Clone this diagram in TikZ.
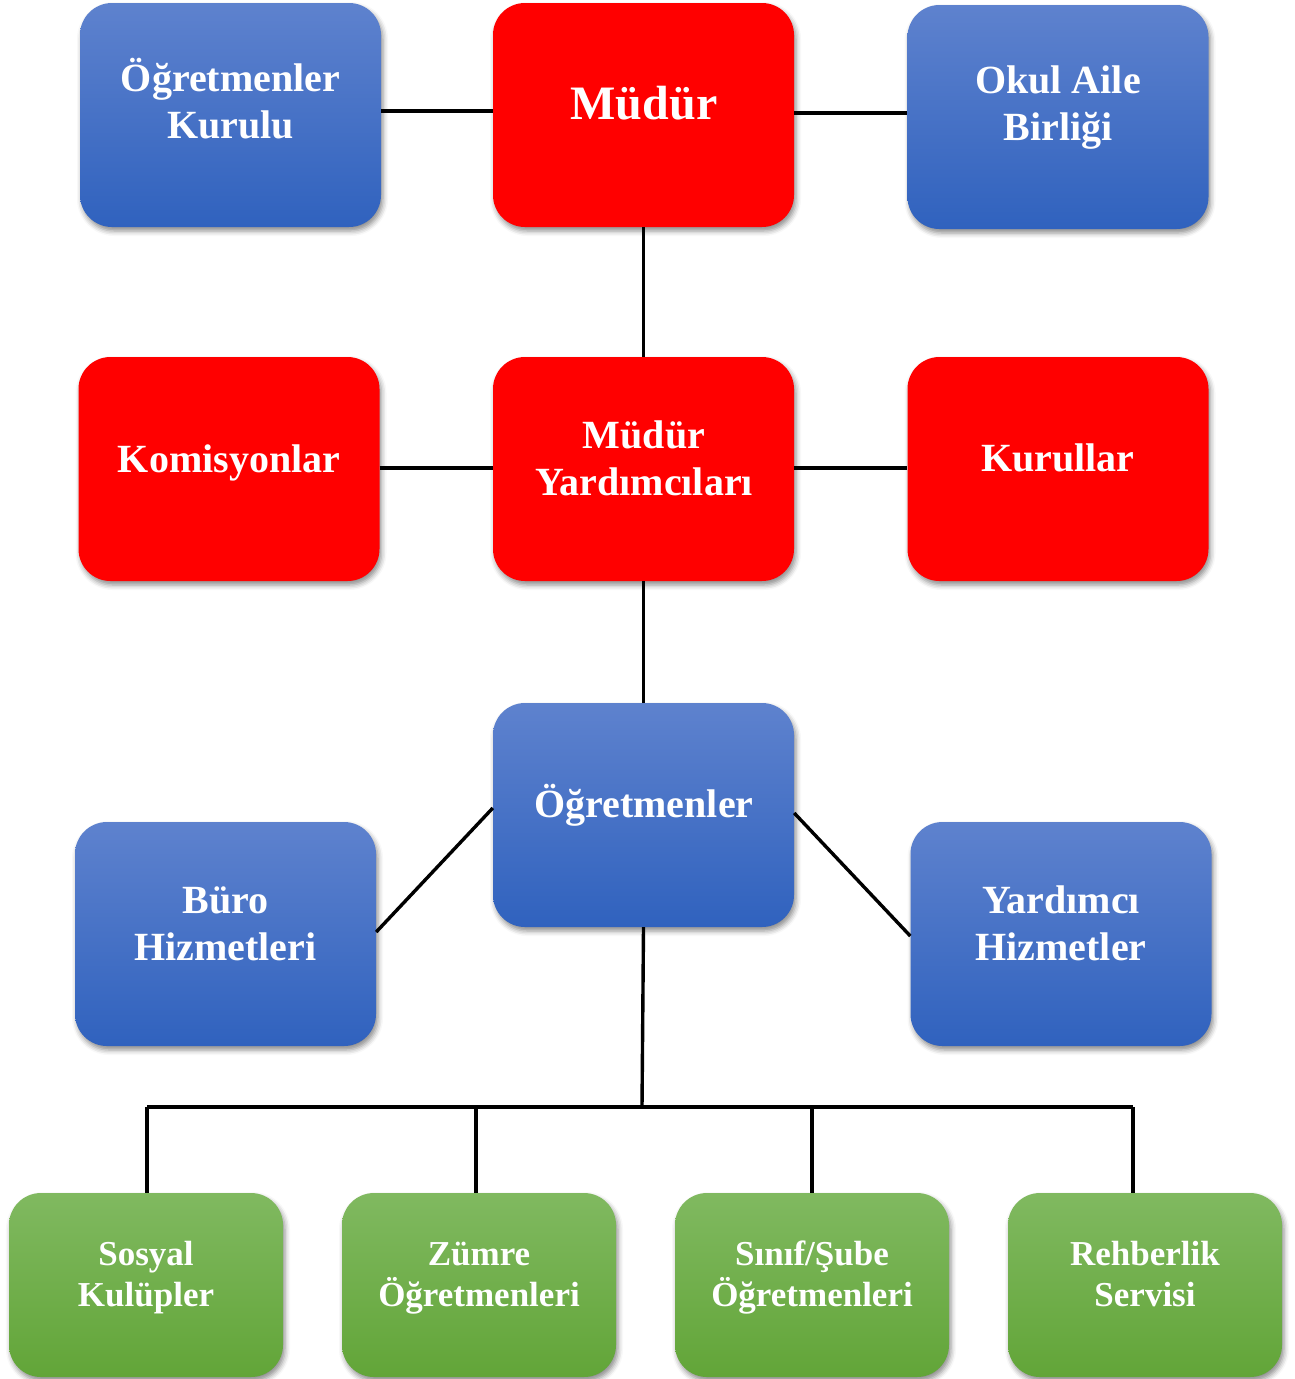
\documentclass[tikz,border=0pt]{standalone}
\usepackage{fontspec}
\setmainfont{Liberation Serif}
\usetikzlibrary{shadows.blur}
\definecolor{bluetop}{RGB}{94,130,206}
\definecolor{bluebot}{RGB}{48,98,190}
\definecolor{greentop}{RGB}{128,185,96}
\definecolor{greenbot}{RGB}{98,165,56}
\definecolor{redbox}{RGB}{255,0,0}
\tikzset{
  box/.style={rounded corners=32pt, minimum width=301pt, minimum height=224pt, inner sep=0pt,
    blur shadow={shadow xshift=2pt, shadow yshift=-4pt, shadow blur radius=5pt, shadow opacity=45}},
  bluebox/.style={box, top color=bluetop, bottom color=bluebot},
  redb/.style={box, fill=redbox},
  greenbox/.style={box, minimum width=274pt, minimum height=184pt, top color=greentop, bottom color=greenbot},
  lbl/.style={text=white, font=\bfseries\fontsize{40}{47}\selectfont, align=center, anchor=base, inner sep=0pt},
  glbl/.style={text=white, font=\bfseries\fontsize{35}{41}\selectfont, align=center, anchor=base, inner sep=0pt},
  conn/.style={line width=3.4pt, black}
}
\begin{document}
\begin{tikzpicture}[x=1pt,y=-1pt]
\useasboundingbox (0,0) rectangle (1295,1379);
% row 1
\node[bluebox] (ok) at (230.5,115) {};
\node[redb] (md) at (643.5,115) {};
\node[bluebox] (oab) at (1058,117) {};
% row 2
\node[redb] (kom) at (229,469) {};
\node[redb] (my) at (643.5,469) {};
\node[redb] (kur) at (1058,469) {};
% row 3
\node[bluebox] (ogr) at (643.5,815) {};
\node[bluebox] (buro) at (225.5,934) {};
\node[bluebox] (yh) at (1061,934) {};
% row 4
\node[greenbox] (sk) at (146,1285) {};
\node[greenbox] (zo) at (479,1285) {};
\node[greenbox] (so) at (812,1285) {};
\node[greenbox] (rs) at (1145,1285) {};
% labels (base = baseline of last line)
\node[lbl] (tok) at (230.5,138) {Öğretmenler\\Kurulu};
\node[lbl, font=\bfseries\fontsize{48}{56}\selectfont] (tmd) at (644,119) {Müdür};
\node[lbl] (toab) at (1058,140) {Okul Aile\\Birliği};
\node[lbl] (tkom) at (229,472) {Komisyonlar};
\node[lbl] (tmy) at (644,495) {Müdür\\Yardımcıları};
\node[lbl] (tkur) at (1058,471) {Kurullar};
\node[lbl] (togr) at (644,817) {Öğretmenler};
\node[lbl] (tburo) at (225.5,960) {Büro\\Hizmetleri};
\node[lbl] (tyh) at (1061,960) {Yardımcı\\Hizmetler};
\node[glbl] (tsk) at (146,1306) {Sosyal\\Kulüpler};
\node[glbl] (tzo) at (479,1306) {Zümre\\Öğretmenleri};
\node[glbl] (tso) at (812,1306) {Sınıf/Şube\\Öğretmenleri};
\node[glbl] (trs) at (1145,1306) {Rehberlik\\Servisi};
% connectors
\coordinate (bl) at (147,1107);
\coordinate (br) at (1133,1107);
\coordinate (bm) at (642,1107);
\draw[conn] (ok.east |- 0,111) -- (md.west |- 0,111);
\draw[conn] (md.east |- 0,113) -- (oab.west |- 0,113);
\draw[conn] (md.south) -- (my.north);
\draw[conn] (kom.east |- 0,468) -- (my.west |- 0,468);
\draw[conn] (my.east |- 0,468) -- (kur.west |- 0,468);
\draw[conn] (my.south) -- (ogr.north);
\draw[conn] (buro.east |- 0,932) -- (ogr.west |- 0,808);
\draw[conn] (ogr.east |- 0,813) -- (yh.west |- 0,936);
\draw[conn] (ogr.south) -- (bm);
\draw[conn] (bl) -- (br);
\draw[conn] (bl) -- (sk.north -| bl);
\draw[conn] (zo.north -| 476,0) -- (476,1107);
\draw[conn] (so.north -| 812,0) -- (812,1107);
\draw[conn] (br) -- (rs.north -| br);
\end{tikzpicture}
\end{document}
